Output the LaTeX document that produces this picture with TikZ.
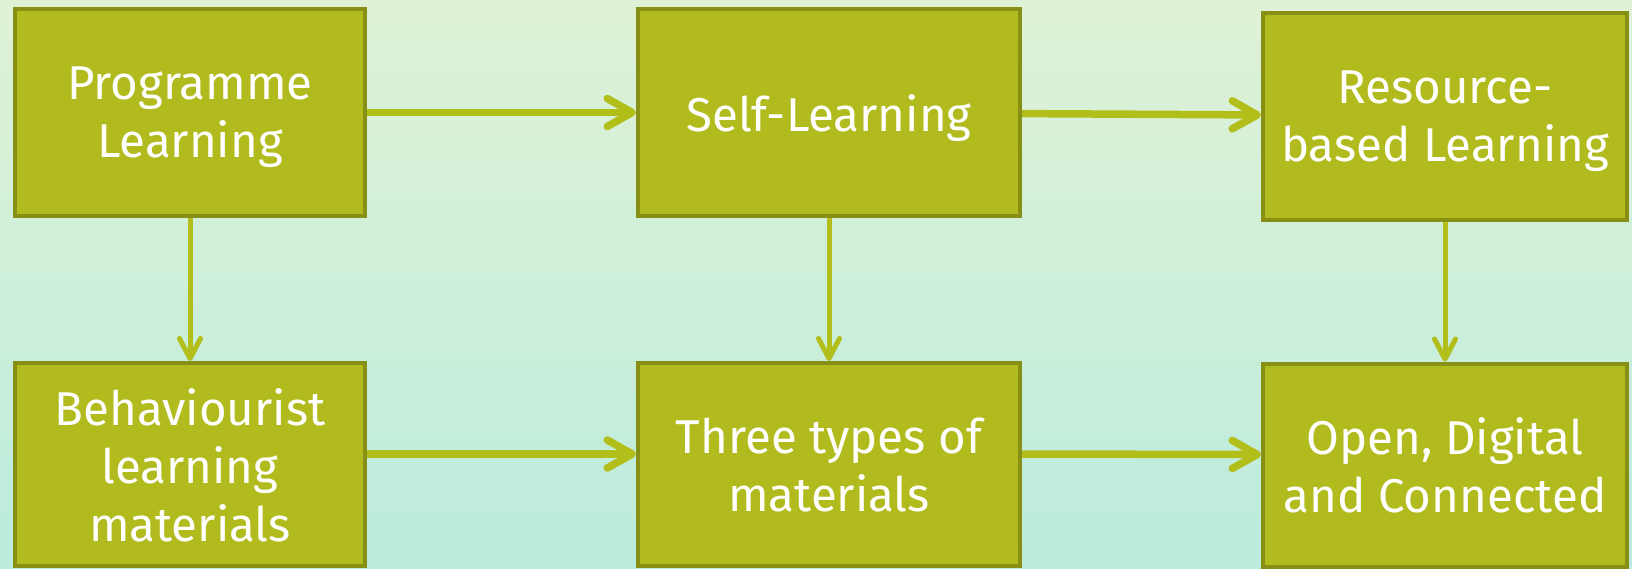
\documentclass[tikz,border=0pt]{standalone}
\usepackage{fontspec}
\setmainfont{Fira Sans}
\usetikzlibrary{positioning, arrows.meta}
\definecolor{boxfill}{HTML}{B2BB1E}
\definecolor{boxline}{HTML}{878F14}
\definecolor{arrowgreen}{HTML}{B2BE1A}
\definecolor{bgtop}{HTML}{E0F2D6}
\definecolor{bgbot}{HTML}{BBEBDC}
\tikzset{
stage/.style={draw=boxline, fill=boxfill, line width=0.08cm, text=white, align=center, inner sep=0pt,
  font=\fontsize{27}{33}\selectfont, text depth=0pt, minimum height=4.14cm}, % sets the look of every box
harrow/.style={draw=arrowgreen, line width=0.15cm, -{Straight Barb[length=0.5cm, width=0.56cm, round]}}, % arrows going right
varrow/.style={draw=arrowgreen, line width=0.1cm, -{Straight Barb[length=0.4cm, width=0.42cm, round]}}, % arrows going down
}

\begin{document}
\begin{tikzpicture}
        \shade[top color=bgtop, bottom color=bgbot] (0,0) rectangle (32.64,-11.36);
        \useasboundingbox (0,0) rectangle (32.64,-11.36);

        \node[stage, minimum width=7cm] (PROG) at (3.8,-2.25) {Programme\\Learning};
        \node[stage, minimum width=7.64cm, right=5.38cm of PROG] (SELF) {Self-Learning};
        \node[stage, minimum width=7.28cm, right=4.78cm of SELF, yshift=-0.07cm] (RES) {Resource-\\based Learning};
        \node[stage, minimum width=7cm, minimum height=4.06cm, below=2.86cm of PROG] (BEH) {Behaviourist\\learning\\materials};
        \node[stage, minimum width=7.64cm, minimum height=4.06cm, below=2.86cm of SELF] (THREE) {Three types of\\materials};
        \node[stage, minimum width=7.28cm, minimum height=4.06cm, below=2.80cm of RES] (OPEN) {Open, Digital\\and Connected};


        \draw (PROG) edge[harrow] (SELF)
              (SELF) edge[harrow] (RES)
              (PROG) edge[varrow] (BEH)
              (SELF) edge[varrow] (THREE)
              (RES) edge[varrow] (OPEN)
              ([yshift=0.21cm]BEH.east) edge[harrow] ([yshift=0.21cm]THREE.west)
              ([yshift=0.21cm]THREE.east) edge[harrow] ([yshift=0.21cm]OPEN.west);

  \end{tikzpicture}
\end{document}
